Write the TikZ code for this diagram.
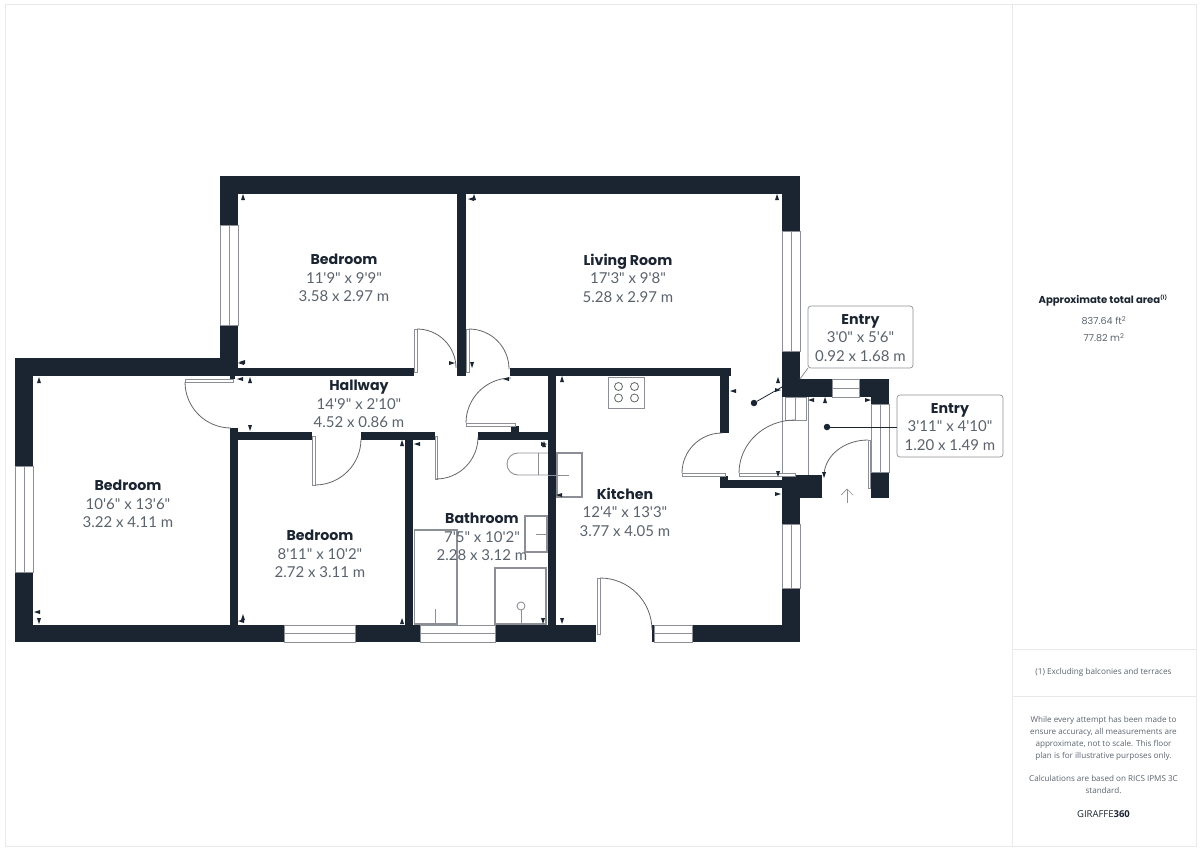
\documentclass[tikz,border=0pt]{standalone}
\usepackage{fontspec}
\newfontfamily\dimfont{Lato}
\newfontfamily\headfont{Poppins}
\newfontfamily\noticefont{Open Sans}
\definecolor{wallc}{HTML}{1B2431}
\definecolor{doorc}{HTML}{8C9096}
\definecolor{dimc}{HTML}{5A626C}
\definecolor{framec}{HTML}{E8E9EA}
\tikzset{
 wall/.style={fill=wallc,draw=none},
 winbox/.style={draw=doorc,fill=white,line width=0.9pt},
 leaf/.style={draw=doorc,fill=white,line width=0.9pt},
 swing/.style={draw=doorc!70!black,line width=0.8pt},
 fixture/.style={draw=doorc,line width=1.3pt,fill=white},
 thin/.style={draw=doorc,line width=0.9pt},
 roomlabel/.style={align=center,text=dimc,font=\dimfont\fontsize{15}{18.5}\selectfont},
 callout/.style={draw=doorc,fill=white,rounded corners=3pt,line width=0.7pt},
 leader/.style={draw=wallc,line width=0.8pt},
 dotm/.style={circle,fill=wallc,inner sep=0pt,minimum size=6.5pt},
 frame/.style={draw=framec,line width=1pt},
 tick/.style={fill=wallc,draw=none}
}
\newcommand{\rmlab}[4]{\node[roomlabel] (#1) at (#2) {{\headfont\fontsize{14.2}{18.5}\selectfont\color{wallc}\bfseries #3}\\#4};}
\newcommand{\up}[2]{\fill[tick] (#1-2,#2+3) -- (#1+2,#2+3) -- (#1,#2-3) -- cycle;}
\newcommand{\dn}[2]{\fill[tick] (#1-2,#2-3) -- (#1+2,#2-3) -- (#1,#2+3) -- cycle;}
\newcommand{\lf}[2]{\fill[tick] (#1+3,#2-2) -- (#1+3,#2+2) -- (#1-3,#2) -- cycle;}
\newcommand{\rt}[2]{\fill[tick] (#1-3,#2-2) -- (#1-3,#2+2) -- (#1+3,#2) -- cycle;}
\begin{document}
\begin{tikzpicture}[x=1pt,y=-1pt]
\useasboundingbox (0,0) rectangle (1200,849);
% sheet frame
\draw[frame] (5,4) rectangle (1196,846);
\draw[frame] (1012,4) -- (1012,846);
\draw[frame] (1012,649) -- (1196,649);
\draw[frame] (1012,696) -- (1196,696);
% walls
\fill[wall] (220,176) rectangle (800,194);
\fill[wall] (220,176) rectangle (238,225);
\fill[wall] (220,325) rectangle (238,376);
\fill[wall] (15,358) rectangle (238,376);
\fill[wall] (15,358) rectangle (33,466);
\fill[wall] (15,572) rectangle (33,642);
\fill[wall] (15,625) rectangle (284,642);
\fill[wall] (355,625) rectangle (420,642);
\fill[wall] (495,625) rectangle (596,642);
\fill[wall] (652,625) rectangle (654,642);
\fill[wall] (692,625) rectangle (800,642);
\fill[wall] (782,588) rectangle (800,642);
\fill[wall] (782,176) rectangle (800,231);
\fill[wall] (782,351) rectangle (800,397);
\fill[wall] (782,379) rectangle (832,397);
\fill[wall] (859,379) rectangle (889,397);
\fill[wall] (871,379) rectangle (889,404);
\fill[wall] (871,472) rectangle (889,498);
\fill[wall] (782,475) rectangle (822,498);
\fill[wall] (782,475) rectangle (800,524);
\fill[wall] (720,480) rectangle (782,488);
\fill[wall] (720,476) rectangle (728,488);
\fill[wall] (720,368) rectangle (729,433);
\fill[wall] (510,368) rectangle (731,376);
\fill[wall] (548,368) rectangle (556,625);
\fill[wall] (457,176) rectangle (466,376);
\fill[wall] (238,368) rectangle (414,376);
\fill[wall] (230,376) rectangle (235,379);
\fill[wall] (230,428) rectangle (238,625);
\fill[wall] (230,432) rectangle (312,440);
\fill[wall] (361,432) rectangle (435,440);
\fill[wall] (405,432) rectangle (413,625);
\fill[wall] (478,432) rectangle (548,440);
\fill[wall] (511,426) rectangle (519,432);
% windows
\foreach \xa/\ya/\xb/\yb in {220/225/238/325,15/466/33/572,782/231/800/351,871/404/889/472,782/524/800/588}{
  \draw[winbox] (\xa,\ya) rectangle (\xb,\yb);
  \draw[thin] ({(\xa+\xb)/2},\ya) -- ({(\xa+\xb)/2},\yb);
}
\foreach \xa/\xb/\ya/\yb in {284/355/625/642,420/495/625/642,654/692/625/642,832/859/379/397}{
  \draw[winbox] (\xa,\ya) rectangle (\xb,\yb);
  \draw[thin] (\xa,{(\ya+\yb)/2}) -- (\xb,{(\ya+\yb)/2});
}
% entry partition lines
\draw[thin] (782,397) -- (782,475);
\draw[thin] (808,397) -- (808,475);
\draw[thin] (785,397) rectangle (806,420);
\draw[thin] (795,397) -- (795,420);
% doors (y axis points down, so screen angles are negated)
\draw[leaf] (414,329) rectangle (417,372);
\draw[swing] (417,329) arc[start angle=-90,end angle=0,radius=39];
\draw[leaf] (466,329) rectangle (469,372);
\draw[swing] (469,329) arc[start angle=-90,end angle=0,radius=40];
\draw[leaf] (466,423) rectangle (515,426);
\draw[swing] (466,423) arc[start angle=180,end angle=270,radius=45];
\draw[leaf] (435,436) rectangle (437,479);
\draw[swing] (436,479) arc[start angle=90,end angle=0,radius=42];
\draw[leaf] (185,379) rectangle (233,382);
\draw[swing] (185,382) arc[start angle=180,end angle=90,radius=46];
\draw[leaf] (312,436) rectangle (315,485);
\draw[swing] (315,485) arc[start angle=90,end angle=0,radius=46];
\draw[leaf] (597,578) rectangle (600,634);
\draw[swing] (600,578) arc[start angle=-90,end angle=0,radius=52];
\draw[leaf] (682,473) rectangle (725,476);
\draw[swing] (682,473) arc[start angle=180,end angle=270,radius=40];
\draw[leaf] (739,473) rectangle (795,476);
\draw[swing] (739,473) arc[start angle=180,end angle=270,x radius=56,y radius=53];
\draw[leaf] (868,440) rectangle (870,488);
\draw[swing] (868,440) arc[start angle=270,end angle=180,x radius=44,y radius=36];
% fixtures: bath, shower, basins, toilet, hob
\draw[fixture] (414.5,530) rectangle (457,624);
\draw[thin] (435,609) -- (435,624);
\draw[fixture] (495,568) rectangle (546,624);
\draw[thin] (521,606) circle (4);
\draw[thin] (521,610) -- (521,624);
\draw[fixture] (525,516) rectangle (547,552);
\draw[thin] (536,534) -- (547,534);
\draw[fixture] (557,453) rectangle (582,497);
\draw[thin] (548,475) -- (569,475);
\draw[thin] (548,453) -- (518,453) arc[start angle=-90,end angle=-270,radius=11] -- (548,475);
\draw[thin] (538,453) -- (538,475);
\draw[fixture,line width=1pt] (608,377) rectangle (644,408);
\foreach \cx in {618.5,634.5}{\foreach \cy in {386.5,398}{\draw[doorc!70!black,line width=0.8pt] (\cx,\cy) circle (4);}}
% dimension ticks
\up{243}{197}\lf{241}{363}\up{777}{197}\lf{471}{199}\up{474}{197}
\up{39}{380}\lf{37}{612}\dn{39}{621}
\lf{240}{379}\up{250}{380}\dn{250}{428}\up{402}{443}\lf{242}{362}
\rt{452}{363}\dn{472}{365}\lf{506}{379}\up{562}{379}
\lf{733}{391}\rt{778}{390}\up{778}{380}
\lf{811}{400}\up{825}{400}\rt{868}{400}
\dn{778}{474}\rt{778}{494}\dn{824}{475}
\lf{417}{444}\rt{544}{444}\up{544}{444}\lf{559}{495}
\up{402}{621}\dn{543}{621}\dn{562}{621}\lf{241}{621}\up{243}{617}
% entry arrow
\coordinate (arrowtop) at (847,489);
\coordinate (arrowfoot) at (847,503);
\draw[thin,line width=0.7pt] (arrowfoot) -- (arrowtop);
\draw[thin,line width=0.7pt] (841,495) -- (arrowtop) -- (853,495);
% room labels
\rmlab{bed1}{344,278}{Bedroom}{11'9" x 9'9"\\3.58 x 2.97 m}
\rmlab{living}{628,278}{Living Room}{17'3" x 9'8"\\5.28 x 2.97 m}
\rmlab{hall}{359,404}{Hallway}{14'9" x 2'10"\\4.52 x 0.86 m}
\rmlab{bed2}{128,504}{Bedroom}{10'6" x 13'6"\\3.22 x 4.11 m}
\rmlab{bed3}{320,554}{Bedroom}{8'11" x 10'2"\\2.72 x 3.11 m}
\rmlab{bath}{482,537}{Bathroom}{7'5" x 10'2"\\2.28 x 3.12 m}
\rmlab{kitchen}{625,512}{Kitchen}{12'4" x 13'3"\\3.77 x 4.05 m}
% entry callouts
\draw[callout] (808,306) rectangle (913,368);
\rmlab{entrya}{860.5,338}{Entry}{3'0" x 5'6"\\0.92 x 1.68 m}
\node[dotm] (dota) at (754,403) {};
\coordinate (dotaend) at (782,387);
\draw[leader] (dota) -- (dotaend);
\draw[callout] (897,395) rectangle (1003,457);
\rmlab{entryb}{950,427}{Entry}{3'11" x 4'10"\\1.20 x 1.49 m}
\node[dotm] (dotb) at (827,427) {};
\draw[leader] (dotb) -- (897,427);
\draw[leader,draw=doorc] (800,379) -- (808,368);
% side panel
\node[font=\headfont\fontsize{10.1}{13}\selectfont\bfseries,text=wallc] (areat) at (1103,300.5) {Approximate total area\textsuperscript{\fontsize{5}{5}\selectfont(1)}};
\node[font=\headfont\fontsize{9.6}{12}\selectfont,text=dimc] (areaf) at (1104,320.5) {837.64 ft\textsuperscript{2}};
\node[font=\headfont\fontsize{9.6}{12}\selectfont,text=dimc] (aream) at (1104,337.5) {77.82 m\textsuperscript{2}};
\node[font=\noticefont\fontsize{8.2}{11}\selectfont,text=dimc] (excl) at (1103.5,672) {(1) Excluding balconies and terraces};
\node[font=\noticefont\fontsize{8.1}{12}\selectfont,text=dimc,align=center] (notice) at (1103.5,755) {While every attempt has been made to\\ensure accuracy, all measurements are\\approximate, not to scale. This floor\\plan is for illustrative purposes only.\\[11.7pt]Calculations are based on RICS IPMS 3C\\standard.};
\node[font=\noticefont\fontsize{9.5}{12}\selectfont,text=wallc] (logo) at (1103.5,814) {GIRAFFE\textbf{360}};
\end{tikzpicture}
\end{document}
